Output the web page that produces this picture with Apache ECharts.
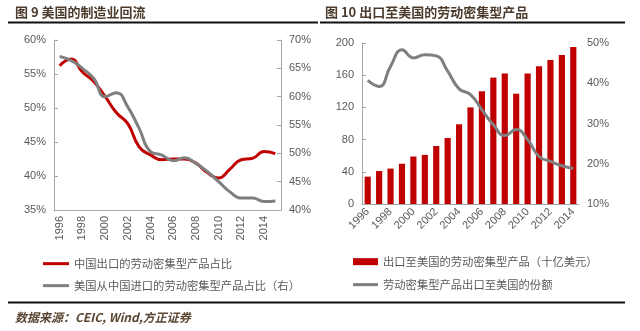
<!DOCTYPE html>
<html><head><meta charset="utf-8">
<script src="https://cdn.jsdelivr.net/npm/echarts@6/dist/echarts.min.js"></script>
<style>html,body{margin:0;padding:0;background:#fff}#c{width:640px;height:331px}</style>
</head><body><div id="c"></div>
<script>
var yearsL = ['1996','1997','1998','1999','2000','2001','2002','2003','2004','2005','2006','2007','2008','2009','2010','2011','2012','2013','2014','2015'];
var chinaShare = [56.2,57.2,55.3,53.9,51.7,49.3,47.7,44.3,43.1,42.4,42.5,42.5,41.9,40.5,39.7,41.0,42.4,42.6,43.6,43.3];
var usImportShare = [67.1,66.4,65.0,63.2,60.0,60.7,58.2,54.4,50.3,49.7,48.7,49.2,48.2,46.8,45.0,43.2,42.1,42.1,41.5,41.6];
var yearsR = ['1996','1997','1998','1999','2000','2001','2002','2003','2004','2005','2006','2007','2008','2009','2010','2011','2012','2013','2014'];
var exportsUS = [34,41,44,50,59,61,72,82,99,120,140,157,162,137,162,171,179,185,195];
var exportShare = [40.7,39.2,44.2,48.3,46.3,47.1,46.8,43.0,38.6,37.2,33.4,29.7,27.0,28.5,26.0,21.8,20.6,19.5,18.8];
var ticksL1 = [35,60,5], ticksL2 = [40,70,5], ticksR1 = [0,200,40], ticksR2 = [10,50,10];

var RED = '#C00000', GRAY = '#7F7F7F', LBL = '#595959', AX = '#A6A6A6';
var axFont = 'Liberation Sans', cjk = 'Noto Sans CJK SC';
function yAx(gi, r, pct, pos, showLine) {
  return {type:'value', gridIndex:gi, position:pos, min:r[0], max:r[1], interval:r[2],
    splitLine:{show:false},
    axisLine:{show:showLine, lineStyle:{color:AX}},
    axisTick:{show:showLine, inside:true, length:4, lineStyle:{color:AX}},
    axisLabel:{color:LBL, fontFamily:axFont, fontSize:11, margin:8,
      formatter: pct ? function(v){return v+'%';} : null}};
}
var legText = {color:LBL, fontFamily:cjk, fontSize:11.3};
var chart = echarts.init(document.getElementById('c'));
chart.setOption({
  animation:false,
  grid:[{left:54, right:359, top:40, bottom:121},{left:362, right:61, top:43, bottom:127}],
  xAxis:[
    {type:'category', gridIndex:0, data:yearsL, boundaryGap:true,
     axisLine:{lineStyle:{color:AX}}, axisTick:{show:false},
     axisLabel:{interval:1, rotate:90, color:LBL, fontFamily:axFont, fontSize:11, margin:6}},
    {type:'category', gridIndex:1, data:yearsR, boundaryGap:true,
     axisLine:{lineStyle:{color:AX}}, axisTick:{show:false},
     axisLabel:{interval:1, rotate:45, color:LBL, fontFamily:axFont, fontSize:11, margin:6}}
  ],
  yAxis:[
    yAx(0, ticksL1, true, 'left', true),
    yAx(0, ticksL2, true, 'right', true),
    yAx(1, ticksR1, false, 'left', true),
    yAx(1, ticksR2, true, 'right', false)
  ],
  legend:[
    {left:38, top:253, icon:'rect', itemWidth:26, itemHeight:3, data:['中国出口的劳动密集型产品占比'], textStyle:legText},
    {left:38, top:275, icon:'rect', itemWidth:26, itemHeight:3, data:['美国从中国进口的劳动密集型产品占比（右）'], textStyle:legText},
    {left:348, top:251, icon:'rect', itemWidth:25, itemHeight:7, data:['出口至美国的劳动密集型产品（十亿美元）'], textStyle:legText},
    {left:348, top:274, icon:'rect', itemWidth:25, itemHeight:3, data:['劳动密集型产品出口至美国的份额'], textStyle:legText}
  ],
  series:[
    {name:'中国出口的劳动密集型产品占比', type:'line', xAxisIndex:0, yAxisIndex:0, data:chinaShare,
     smooth:true, symbol:'none', lineStyle:{color:RED, width:3}, itemStyle:{color:RED}},
    {name:'美国从中国进口的劳动密集型产品占比（右）', type:'line', xAxisIndex:0, yAxisIndex:1, data:usImportShare,
     smooth:true, symbol:'none', lineStyle:{color:GRAY, width:3}, itemStyle:{color:GRAY}},
    {name:'出口至美国的劳动密集型产品（十亿美元）', type:'bar', xAxisIndex:1, yAxisIndex:2, data:exportsUS,
     barWidth:'54%', itemStyle:{color:RED}},
    {name:'劳动密集型产品出口至美国的份额', type:'line', xAxisIndex:1, yAxisIndex:3, data:exportShare,
     smooth:true, symbol:'none', lineStyle:{color:GRAY, width:3}, itemStyle:{color:GRAY}, z:5}
  ],
  graphic:[
    {type:'text', left:15, top:6, style:{text:'图 9 美国的制造业回流', fill:'#4A3B2C', font:'bold 13px "Noto Sans CJK SC"'}},
    {type:'text', left:325, top:6, style:{text:'图 10 出口至美国的劳动密集型产品', fill:'#4A3B2C', font:'bold 13px "Noto Sans CJK SC"'}},
    {type:'line', shape:{x1:8, y1:22.5, x2:318, y2:22.5}, style:{stroke:'#111', lineWidth:2}},
    {type:'line', shape:{x1:320, y1:22.5, x2:625, y2:22.5}, style:{stroke:'#111', lineWidth:2}},
    {type:'line', shape:{x1:8, y1:302.5, x2:625, y2:302.5}, style:{stroke:'#111', lineWidth:2}},
    {type:'text', left:15, top:311, style:{text:'数据来源：CEIC, Wind,方正证券', fill:'#5A4632', font:'italic bold 12px "Noto Sans CJK SC"'}}
  ]
});
</script></body></html>
